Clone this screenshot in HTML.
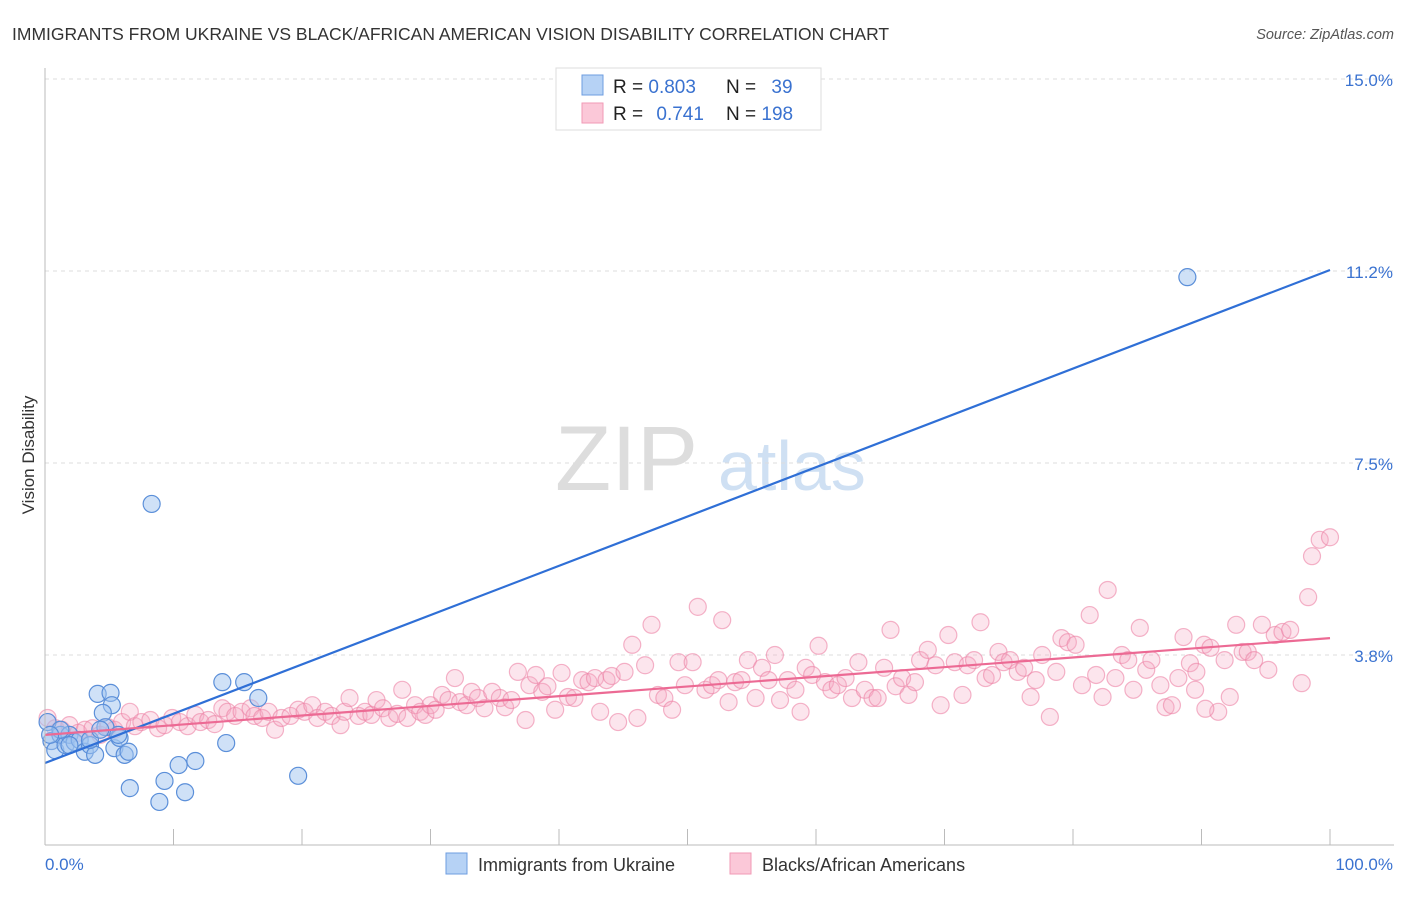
<!DOCTYPE html>
<html><head><meta charset="utf-8"><style>
body{margin:0;background:#fff;font-family:"Liberation Sans",sans-serif}
svg text{font-family:"Liberation Sans",sans-serif}
</style></head><body>
<svg id="chart" width="1406" height="892">
<text x="12" y="40" font-size="17.5" fill="#333">IMMIGRANTS FROM UKRAINE VS BLACK/AFRICAN AMERICAN VISION DISABILITY CORRELATION CHART</text>
<text x="1394" y="39" font-size="14.5" fill="#555" font-style="italic" text-anchor="end">Source: ZipAtlas.com</text>
<text x="34" y="455" font-size="17" fill="#333" text-anchor="middle" transform="rotate(-90 34 455)">Vision Disability</text>
<text x="555" y="490" font-size="92" fill="#ddd" font-family="Liberation Serif">ZIP</text>
<text x="718" y="490" font-size="70" fill="#cfe0f3">atlas</text>
<g id="grid"></g><g id="pts"></g><g id="lines"></g>
<line x1="45" y1="68" x2="45" y2="845" stroke="#bbb"/>
<line x1="45" y1="845" x2="1394" y2="845" stroke="#bbb"/>
<text x="45" y="870" font-size="17" fill="#3a72d0">0.0%</text>
<text x="1393" y="870" font-size="17" fill="#3a72d0" text-anchor="end">100.0%</text>
<g>
<rect x="556" y="68" width="265" height="62" fill="#fff" stroke="#ddd"/>
<rect x="582" y="75" width="21" height="20" fill="#b6d2f5" stroke="#6e9de0"/>
<rect x="582" y="103" width="21" height="20" fill="#fbc8d8" stroke="#f09ab6"/>
<text x="613" y="93" font-size="19" fill="#222">R = <tspan fill="#3a72d0">0.803</tspan></text>
<text x="726" y="93" font-size="19" fill="#222">N = <tspan fill="#3a72d0" dx="10">39</tspan></text>
<text x="613" y="120" font-size="19" fill="#222">R = <tspan fill="#3a72d0" dx="8">0.741</tspan></text>
<text x="726" y="120" font-size="19" fill="#222">N = <tspan fill="#3a72d0">198</tspan></text>
</g>
<g>
<rect x="446" y="853" width="21" height="21" fill="#b6d2f5" stroke="#6e9de0"/>
<text x="478" y="871" font-size="18" fill="#333">Immigrants from Ukraine</text>
<rect x="730" y="853" width="21" height="21" fill="#fbc8d8" stroke="#f09ab6"/>
<text x="762" y="871" font-size="18" fill="#333">Blacks/African Americans</text>
</g>
</svg>
<script>
const yTicks=[15,11.25,7.5,3.75];
const yTickLabels=["15.0%","11.2%","7.5%","3.8%"];
const xTicks=[10,20,30,40,50,60,70,80,90,100];
const blueX=[0.2,0.5,0.8,1.2,1.6,1.9,2.3,2.7,3.1,3.5,3.9,4.1,5.1,5.2,4.5,4.7,5.4,5.8,6.2,6.5,8.3,6.6,8.9,9.3,10.4,10.9,11.7,13.8,14.1,15.5,16.6,19.7,88.9,1.2,1.9,3.5,4.3,5.7,0.4];
const blueY=[2.44,2.07,1.89,2.19,1.99,2.19,2.05,2.09,1.86,1.99,1.80,2.99,3.01,2.77,2.62,2.34,1.93,2.13,1.80,1.86,6.70,1.15,0.88,1.29,1.60,1.07,1.68,3.22,2.03,3.22,2.91,1.39,11.13,2.29,1.99,2.09,2.29,2.19,2.19];
const pinkX=[0.2,0.8,1.3,1.9,2.6,3.1,3.7,4.3,4.9,5.4,6.0,6.6,7.0,7.5,8.2,8.8,9.3,9.9,10.5,11.1,11.7,12.1,12.7,13.2,13.8,14.2,14.8,15.3,16.0,16.3,16.9,17.4,17.9,18.4,19.1,19.7,20.2,20.8,21.2,21.8,22.3,23.0,23.3,23.7,24.4,24.9,25.4,25.8,26.3,26.8,27.4,27.8,28.2,28.8,29.2,29.6,30.0,30.4,30.9,31.4,31.9,32.3,32.8,33.2,33.7,34.2,34.8,35.4,35.8,36.3,36.8,37.4,37.7,38.2,38.7,39.1,39.7,40.2,40.7,41.2,41.8,42.3,42.8,43.2,43.7,44.1,44.6,45.1,45.7,46.1,46.7,47.2,47.7,48.2,48.8,49.3,49.8,50.4,50.8,51.4,51.9,52.4,52.7,53.2,53.7,54.2,54.7,55.3,55.8,56.3,56.8,57.2,57.8,58.4,58.8,59.2,59.7,60.2,60.7,61.2,61.7,62.3,62.8,63.3,63.8,64.4,64.8,65.3,65.8,66.2,66.7,67.2,67.7,68.1,68.7,69.3,69.7,70.3,70.8,71.4,71.8,72.3,72.8,73.2,73.7,74.2,74.6,75.1,75.7,76.2,76.7,77.1,77.6,78.2,78.7,79.1,79.6,80.2,80.7,81.3,81.8,82.3,82.7,83.3,83.8,84.3,84.7,85.2,85.7,86.1,86.8,87.2,87.7,88.2,88.6,89.1,89.6,90.2,90.7,91.3,91.8,92.2,92.7,93.2,93.6,94.1,94.7,95.2,95.7,96.3,96.9,97.8,98.3,98.6,99.2,100,90.3,89.5];
const pinkY=[2.52,2.32,2.29,2.38,2.23,2.29,2.32,2.19,2.34,2.29,2.44,2.64,2.36,2.44,2.48,2.32,2.38,2.52,2.44,2.36,2.58,2.44,2.48,2.40,2.71,2.64,2.56,2.64,2.71,2.56,2.52,2.64,2.29,2.52,2.56,2.68,2.64,2.77,2.52,2.64,2.56,2.38,2.64,2.91,2.56,2.64,2.58,2.87,2.71,2.52,2.60,3.07,2.52,2.77,2.64,2.58,2.77,2.68,2.97,2.87,3.30,2.83,2.77,3.03,2.91,2.71,3.03,2.91,2.73,2.87,3.42,2.48,3.16,3.36,3.03,3.14,2.68,3.40,2.93,2.91,3.26,3.22,3.30,2.64,3.26,3.34,2.44,3.42,3.95,2.52,3.55,4.34,2.97,2.91,2.68,3.61,3.16,3.61,4.69,3.07,3.16,3.26,4.43,2.83,3.22,3.26,3.65,2.91,3.50,3.26,3.75,2.87,3.26,3.07,2.64,3.50,3.36,3.93,3.22,3.07,3.16,3.30,2.91,3.61,3.07,2.91,2.91,3.50,4.24,3.14,3.30,2.97,3.22,3.65,3.85,3.55,2.77,4.14,3.61,2.97,3.55,3.65,4.39,3.30,3.36,3.81,3.61,3.65,3.42,3.50,2.93,3.26,3.75,2.54,3.42,4.08,4.00,3.95,3.16,4.53,3.36,2.93,5.02,3.30,3.75,3.65,3.07,4.28,3.46,3.65,3.16,2.73,2.77,3.30,4.10,3.59,3.42,3.95,3.89,2.64,3.65,2.93,4.34,3.81,3.81,3.65,4.34,3.46,4.14,4.20,4.24,3.20,4.88,5.68,6.00,6.05,2.70,3.07];
const blueTrend=[[0,1.64],[100,11.27]];
const pinkTrend=[[0,2.19],[100,4.08]];
const NS="http://www.w3.org/2000/svg";
const xs=v=>45+v*12.85, ys=v=>847-v*51.2;
const grid=document.getElementById('grid'), pts=document.getElementById('pts'), lines=document.getElementById('lines'), svg=document.getElementById('chart');
function mk(tag,attrs,parent){const e=document.createElementNS(NS,tag);for(const k in attrs)e.setAttribute(k,attrs[k]);parent.appendChild(e);return e;}
yTicks.forEach((t,i)=>{
 const l=mk('line',{x1:45,x2:1394,y1:ys(t),y2:ys(t),stroke:'#ddd','stroke-dasharray':'4,4'},grid);
 
 
 const tx=mk('text',{x:1393,y:ys(t)+7,'font-size':17,fill:'#3a72d0','text-anchor':'end'},svg);
 tx.textContent=yTickLabels[i];
 
 
});
xTicks.forEach(t=>{
 const l=mk('line',{x1:xs(t),x2:xs(t),y1:829,y2:845,stroke:'#bbb'},grid);
 
 
});
pinkX.forEach((x,i)=>{
 const c=mk('circle',{cx:xs(x),cy:ys(pinkY[i]),r:8.5,fill:'rgba(246,170,196,0.3)',stroke:'rgba(236,130,165,0.6)','stroke-width':1.2},pts);
 
 
});
blueX.forEach((x,i)=>{
 const c=mk('circle',{cx:xs(x),cy:ys(blueY[i]),r:8.5,fill:'rgba(160,196,240,0.5)',stroke:'#5b8fd9','stroke-width':1.2},pts);
 
 
});
const bl=mk('line',{x1:xs(blueTrend[0][0]),y1:ys(blueTrend[0][1]),x2:xs(blueTrend[1][0]),y2:ys(blueTrend[1][1]),stroke:'#2f6fd6','stroke-width':2.2},lines);


const pl=mk('line',{x1:xs(pinkTrend[0][0]),y1:ys(pinkTrend[0][1]),x2:xs(pinkTrend[1][0]),y2:ys(pinkTrend[1][1]),stroke:'#ec6a94','stroke-width':2.2},lines);


</script>
</body></html>
